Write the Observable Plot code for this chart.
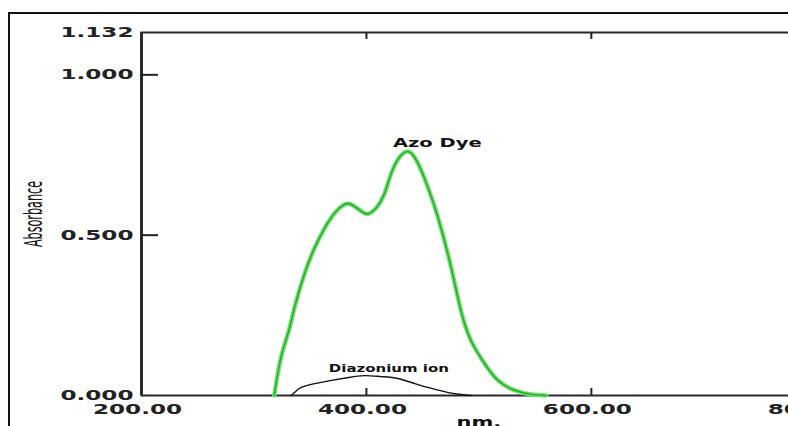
<!DOCTYPE html>
<html><head><meta charset="utf-8">
<script src="https://cdn.jsdelivr.net/npm/d3@7"></script>
<script src="https://cdn.jsdelivr.net/npm/@observablehq/plot@0.6"></script>
<style>
body{margin:0;background:#fff}
#wrap{position:relative;width:788px;height:426px;overflow:hidden;background:#fff}
#border{position:absolute;left:8px;top:12px;width:1000px;height:1000px;border:2px solid #111;box-sizing:border-box}
#wrap svg{position:absolute;left:0;top:0}
</style></head><body><div id="wrap"><div id="border"></div></div>
<script>
// Azo Dye spectrum (wavelength nm, absorbance)
const azoNm  = [318, 324, 331, 336, 345, 354, 363, 372, 380, 387, 396, 402, 409, 416, 422, 429, 437, 446, 458, 467, 476, 484, 493, 505, 517, 532, 547, 560];
const azoAbs = [0, 0.118, 0.202, 0.274, 0.380, 0.461, 0.523, 0.570, 0.595, 0.595, 0.573, 0.567, 0.586, 0.629, 0.692, 0.741, 0.761, 0.723, 0.617, 0.514, 0.389, 0.265, 0.171, 0.100, 0.047, 0.016, 0.003, 0];
// Diazonium ion spectrum
const diazNm  = [333, 336, 342, 354, 369, 384, 398, 413, 428, 443, 458, 473, 484, 493];
const diazAbs = [0, 0.009, 0.025, 0.037, 0.047, 0.056, 0.062, 0.059, 0.053, 0.037, 0.022, 0.009, 0.003, 0];
// ticks
const xTicks = [200, 400, 600, 800];
const yTicks = [0, 0.5, 1.0, 1.132];
// curve labels
const labelText = ["Azo Dye", "Diazonium ion"];
const labelNm   = [463, 420];
const labelAbs  = [0.788, 0.083];
// axis titles
const xTitle = ["nm."];
const xTitleNm = [500];
const yTitle = ["Absorbance"];

const azo = azoNm.map((x, i) => ({x, y: azoAbs[i]}));
const diaz = diazNm.map((x, i) => ({x, y: diazAbs[i]}));
const labels = labelText.map((t, i) => ({t, x: labelNm[i], y: labelAbs[i]}));

const W = 900, H = 426, mL = 141, mR = 28, mT = 32, mB = 31;
const frameW = W - mL - mR, frameH = H - mT - mB;

const svg = Plot.plot({
  width: W, height: H,
  marginLeft: mL, marginRight: mR, marginTop: mT, marginBottom: mB,
  style: {fontFamily: "DejaVu Sans", background: "transparent", maxWidth: "none", overflow: "visible"},
  x: {domain: [200, 850], axis: null},
  y: {domain: [0, 1.132], axis: null},
  marks: [
    Plot.frame({stroke: "#2a2a2a", strokeWidth: 2}),
    Plot.ruleX([200], {stroke: "#2a2a2a", strokeWidth: 3}),
    Plot.ruleX(xTicks.filter(d => d > 200), {stroke: "#222", strokeWidth: 2, insetTop: frameH - 7}),
    Plot.ruleX(xTicks.filter(d => d > 200), {stroke: "#222", strokeWidth: 2, insetBottom: frameH - 7}),
    Plot.ruleY(yTicks.filter(d => d > 0 && d < 1.132), {stroke: "#222", strokeWidth: 2, insetRight: frameW - 17}),
    Plot.axisX(xTicks, {tickFormat: d3.format(".2f"), tickSize: 0, tickPadding: 9, label: null, fontSize: 14, dx: -4}),
    Plot.axisY(yTicks, {tickFormat: d3.format(".3f"), tickSize: 0, tickPadding: 8, label: null, fontSize: 14}),
    Plot.line(diaz, {x: "x", y: "y", stroke: "#111", strokeWidth: 1.4, curve: "natural"}),
    Plot.line(azo, {x: "x", y: "y", stroke: "#72e472", strokeWidth: 4.5, curve: "natural"}),
    Plot.line(azo, {x: "x", y: "y", stroke: "#2fa82f", strokeWidth: 1.6, curve: "natural"}),
    Plot.text(labels.slice(0, 1), {x: "x", y: "y", text: "t", fontSize: 13, fill: "#111"}),
    Plot.text(labels.slice(1), {x: "x", y: "y", text: "t", fontSize: 10, fill: "#111"}),
    Plot.text(xTitle, {x: xTitleNm, frameAnchor: "bottom", dy: 31, text: d => d, fontSize: 14, fill: "#111"}),
    Plot.text(yTitle, {frameAnchor: "left", textAnchor: "middle", rotate: -90, dx: -108, text: d => d, fontSize: 14, fill: "#111"})
  ]
});

function stretchText(t, sx, sy, weight) {
  const tr = t.getAttribute("transform") || "";
  const m = tr.match(/^\s*translate\([^)]*\)/);
  if (m) t.setAttribute("transform", m[0] + ` scale(${sx},${sy})` + tr.slice(m[0].length));
  t.style.fontWeight = weight;
}
svg.querySelectorAll("text").forEach(t => {
  const s = t.textContent.trim();
  if (/^\d+\.\d{2}$/.test(s) || /^\d\.\d{3}$/.test(s)) { stretchText(t, 1.65, 1, "bold"); t.style.fill = "#222"; }
  else if (s === labelText[0] || s === labelText[1] || s === xTitle[0]) stretchText(t, 1.5, 1, "bold");
  else if (s === yTitle[0]) stretchText(t, 1.8, 0.8, "normal");
});

document.getElementById("wrap").appendChild(svg);
</script>
</body></html>
